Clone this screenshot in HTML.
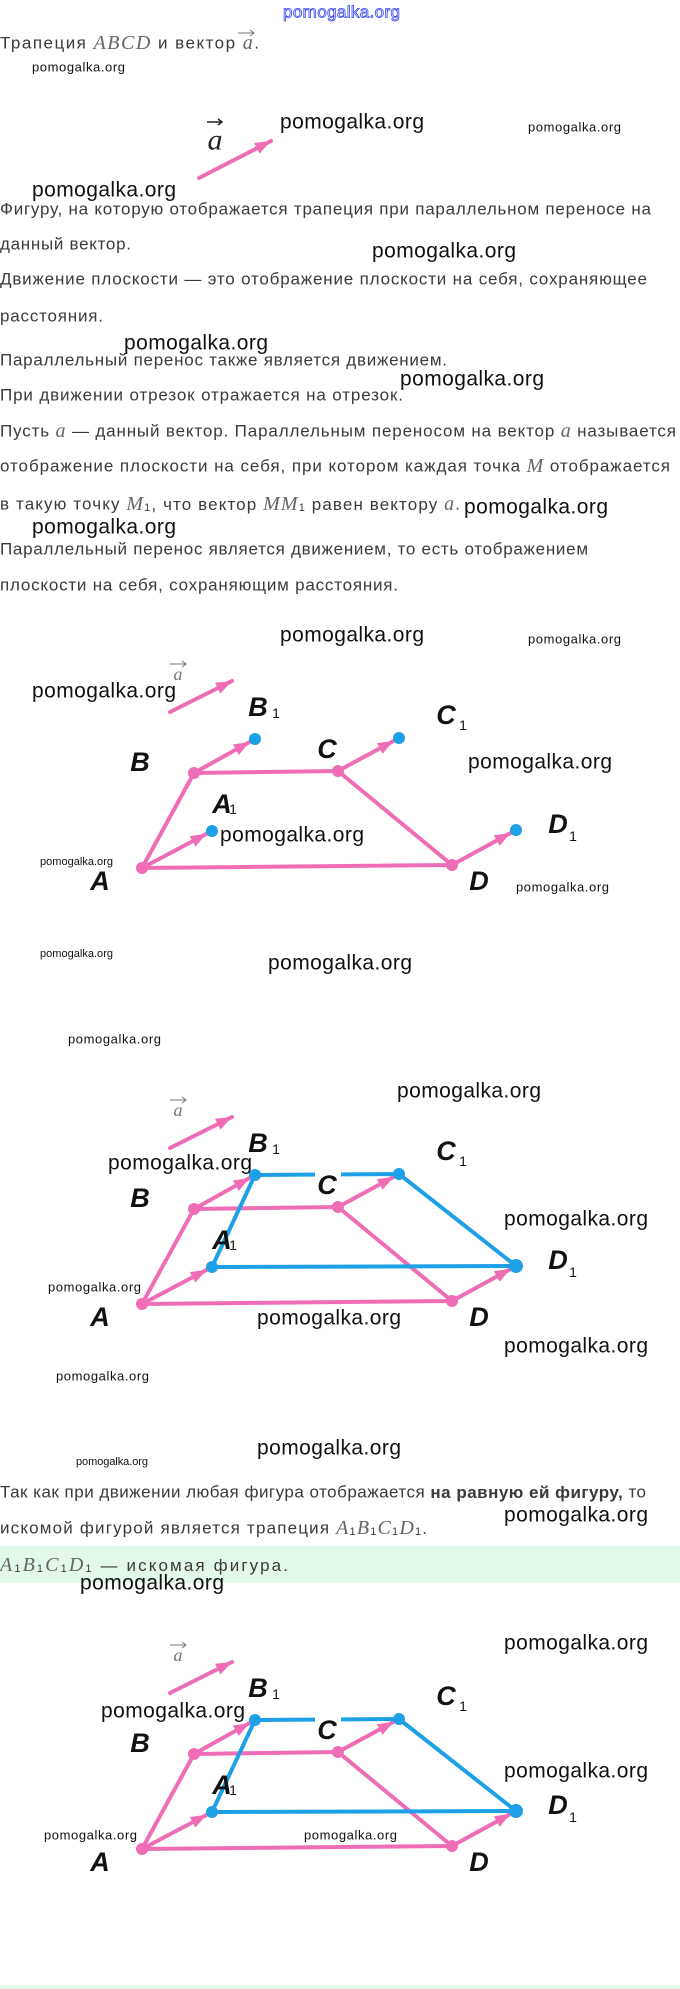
<!DOCTYPE html>
<html><head><meta charset="utf-8">
<style>
html,body{margin:0;padding:0;background:#fff;}
svg{display:block;}
.t{font-family:"Liberation Sans",sans-serif;font-size:17px;fill:#3a3a3a;dominant-baseline:central;}
.m{font-family:"Liberation Serif",serif;font-style:italic;font-size:20px;fill:#666;}
.w{font-family:"Liberation Sans",sans-serif;font-size:21px;fill:#111;dominant-baseline:central;}
.ws{font-family:"Liberation Sans",sans-serif;font-size:13px;fill:#111;dominant-baseline:central;}
.wx{font-family:"Liberation Sans",sans-serif;font-size:11px;fill:#111;dominant-baseline:central;}
.L{font-family:"Liberation Sans",sans-serif;font-size:27px;font-weight:bold;font-style:italic;fill:#111;dominant-baseline:central;text-anchor:middle;}
.s{font-family:"Liberation Sans",sans-serif;font-size:14px;fill:#111;dominant-baseline:central;text-anchor:middle;}
.va{font-family:"Liberation Serif",serif;font-style:italic;font-size:18px;fill:#777;dominant-baseline:central;text-anchor:middle;}
</style></head><body>
<svg width="680" height="1989" viewBox="0 0 680 1989" xmlns="http://www.w3.org/2000/svg">
<defs>
<marker id="ah" markerUnits="userSpaceOnUse" markerWidth="16" markerHeight="12" viewBox="0 0 16 12" refX="22" refY="6" orient="auto"><path d="M0,0 L16,6 L0,12 z" fill="#ef6db5"/></marker>
<marker id="ah0" markerUnits="userSpaceOnUse" markerWidth="16" markerHeight="12" viewBox="0 0 16 12" refX="16" refY="6" orient="auto"><path d="M0,0 L16,6 L0,12 z" fill="#ef6db5"/></marker>
<g id="fig">
<g stroke="#ef6db5" stroke-width="4" fill="none" stroke-linecap="round">
<polyline points="452,865 142,868 194,773 338,771 452,865"/>
<line x1="142" y1="868" x2="212" y2="831" marker-end="url(#ah)"/>
<line x1="194" y1="773" x2="255" y2="739" marker-end="url(#ah)"/>
<line x1="338" y1="771" x2="399" y2="738" marker-end="url(#ah)"/>
<line x1="452" y1="865" x2="516" y2="830" marker-end="url(#ah)"/>
</g>
<g fill="#ef6db5"><circle cx="142" cy="868" r="6"/><circle cx="194" cy="773" r="6"/><circle cx="338" cy="771" r="6"/><circle cx="452" cy="865" r="6"/></g>
</g>
<g id="lab">
<text class="L" x="140" y="762">B</text>
<text class="L" x="258" y="707">B</text><text class="s" x="276" y="713">1</text>
<text class="L" x="327" y="749">C</text>
<text class="L" x="446" y="715">C</text><text class="s" x="463" y="725">1</text>
<text class="L" x="222" y="804">A</text><text class="s" x="233" y="809">1</text>
<text class="L" x="558" y="824">D</text><text class="s" x="573" y="836">1</text>
<text class="L" x="100" y="881">A</text>
<text class="L" x="479" y="881">D</text>
<line x1="170" y1="712" x2="232" y2="681" stroke="#ef6db5" stroke-width="4" stroke-linecap="round" marker-end="url(#ah0)"/>
<text class="va" x="178" y="674">a</text>
<path d="M170,664 L186,664 M182,661 L186,664 L182,667" stroke="#777" stroke-width="1" fill="none"/>
</g>
</defs>

<!-- top -->
<text x="283" y="12" style="font-family:'Liberation Sans',sans-serif;font-size:17px;fill:#fff;stroke:#3344ee;stroke-width:0.8;dominant-baseline:central" textLength="117">pomogalka.org</text>
<text class="t" x="0" y="43" textLength="259">Трапеция <tspan class="m">ABCD</tspan> и вектор <tspan class="m">a</tspan>.</text>
<path d="M238,33 L254,33 M250,30 L254,33 L250,36" stroke="#777" stroke-width="1" fill="none"/>
<text class="ws" x="32" y="67" textLength="93">pomogalka.org</text>
<text x="215" y="140" style="font-family:'Liberation Serif',serif;font-style:italic;font-size:30px;fill:#222;dominant-baseline:central;text-anchor:middle">a</text>
<path d="M207,122 L222,122 M218,119 L222,122 L218,125" stroke="#222" stroke-width="1.5" fill="none"/>
<line x1="199" y1="178" x2="271" y2="141" stroke="#ef6db5" stroke-width="4" stroke-linecap="round" marker-end="url(#ah0)"/>
<text class="w" x="280" y="122" textLength="144">pomogalka.org</text>
<text class="ws" x="528" y="127" textLength="93">pomogalka.org</text>
<text class="w" x="32" y="190" textLength="144">pomogalka.org</text>

<text class="t" x="0" y="209" textLength="651">Фигуру, на которую отображается трапеция при параллельном переносе на</text>
<text class="t" x="0" y="244" textLength="131">данный вектор.</text>
<text class="w" x="372" y="251" textLength="144">pomogalka.org</text>
<text class="t" x="0" y="279" textLength="647">Движение плоскости — это отображение плоскости на себя, сохраняющее</text>
<text class="t" x="0" y="316" textLength="103">расстояния.</text>
<text class="w" x="124" y="343" textLength="144">pomogalka.org</text>
<text class="t" x="0" y="360" textLength="447">Параллельный перенос также является движением.</text>
<text class="w" x="400" y="379" textLength="144">pomogalka.org</text>
<text class="t" x="0" y="395" textLength="403">При движении отрезок отражается на отрезок.</text>
<text class="t" x="0" y="431" textLength="676">Пусть <tspan class="m">a</tspan> — данный вектор. Параллельным переносом на вектор <tspan class="m">a</tspan> называется</text>
<text class="t" x="0" y="466" textLength="670">отображение плоскости на себя, при котором каждая точка <tspan class="m">M</tspan> отображается</text>
<text class="t" x="0" y="504" textLength="460">в такую точку <tspan class="m">M</tspan><tspan style="font-size:11px" dy="4">1</tspan><tspan dy="-4">, что вектор </tspan><tspan class="m">MM</tspan><tspan style="font-size:11px" dy="4">1</tspan><tspan dy="-4"> равен вектору </tspan><tspan class="m">a</tspan>.</text>
<text class="w" x="464" y="507" textLength="144">pomogalka.org</text>
<text class="w" x="32" y="527" textLength="144">pomogalka.org</text>
<text class="t" x="0" y="549" textLength="588">Параллельный перенос является движением, то есть отображением</text>
<text class="t" x="0" y="585" textLength="398">плоскости на себя, сохраняющим расстояния.</text>

<!-- figure 1 -->
<use href="#fig"/>
<use href="#lab"/>
<circle cx="212" cy="831" r="6" fill="#1ea0e6"/><circle cx="255" cy="739" r="6" fill="#1ea0e6"/><circle cx="399" cy="738" r="6" fill="#1ea0e6"/><circle cx="516" cy="830" r="6" fill="#1ea0e6"/>
<text class="w" x="280" y="635" textLength="144">pomogalka.org</text>
<text class="ws" x="528" y="639" textLength="93">pomogalka.org</text>
<text class="w" x="32" y="691" textLength="144">pomogalka.org</text>
<text class="w" x="468" y="762" textLength="144">pomogalka.org</text>
<text class="w" x="220" y="835" textLength="144">pomogalka.org</text>
<text class="wx" x="40" y="862" textLength="73">pomogalka.org</text>
<text class="ws" x="516" y="887" textLength="93">pomogalka.org</text>
<text class="wx" x="40" y="954" textLength="73">pomogalka.org</text>
<text class="w" x="268" y="963" textLength="144">pomogalka.org</text>
<text class="ws" x="68" y="1039" textLength="93">pomogalka.org</text>

<!-- figure 2 -->
<g transform="translate(0,436)">
<use href="#fig"/>
<polygon points="212,831 255,739 399,738 516,830" fill="none" stroke="#1ea0e6" stroke-width="4" stroke-linejoin="round"/>
<rect x="315" y="730" width="26" height="16" fill="#fff"/>
<use href="#lab"/>
<circle cx="212" cy="831" r="6" fill="#1ea0e6"/><circle cx="255" cy="739" r="6" fill="#1ea0e6"/><circle cx="399" cy="738" r="6" fill="#1ea0e6"/><circle cx="516" cy="830" r="7" fill="#1ea0e6"/>
</g>
<text class="w" x="397" y="1091" textLength="144">pomogalka.org</text>
<text class="w" x="108" y="1163" textLength="144">pomogalka.org</text>
<text class="w" x="504" y="1219" textLength="144">pomogalka.org</text>
<text class="ws" x="48" y="1287" textLength="93">pomogalka.org</text>
<text class="w" x="257" y="1318" textLength="144">pomogalka.org</text>
<text class="w" x="504" y="1346" textLength="144">pomogalka.org</text>
<text class="ws" x="56" y="1376" textLength="93">pomogalka.org</text>

<text class="w" x="257" y="1448" textLength="144">pomogalka.org</text>
<text class="wx" x="76" y="1462" textLength="72">pomogalka.org</text>
<text class="t" x="0" y="1492" textLength="646">Так как при движении любая фигура отображается <tspan font-weight="bold">на равную ей фигуру,</tspan> то</text>
<text class="t" x="0" y="1528" textLength="427">искомой фигурой является трапеция <tspan class="m">A</tspan><tspan style="font-size:11px" dy="4">1</tspan><tspan class="m" dy="-4">B</tspan><tspan style="font-size:11px" dy="4">1</tspan><tspan class="m" dy="-4">C</tspan><tspan style="font-size:11px" dy="4">1</tspan><tspan class="m" dy="-4">D</tspan><tspan style="font-size:11px" dy="4">1</tspan><tspan dy="-4">.</tspan></text>
<text class="w" x="504" y="1515" textLength="144">pomogalka.org</text>
<rect x="0" y="1546" width="680" height="37" fill="#e2f8e9"/>
<text class="t" x="0" y="1565" textLength="288"><tspan class="m">A</tspan><tspan style="font-size:11px" dy="4">1</tspan><tspan class="m" dy="-4">B</tspan><tspan style="font-size:11px" dy="4">1</tspan><tspan class="m" dy="-4">C</tspan><tspan style="font-size:11px" dy="4">1</tspan><tspan class="m" dy="-4">D</tspan><tspan style="font-size:11px" dy="4">1</tspan><tspan dy="-4"> — искомая фигура.</tspan></text>
<text class="w" x="80" y="1583" textLength="144">pomogalka.org</text>

<!-- figure 3 -->
<g transform="translate(0,981)">
<use href="#fig"/>
<polygon points="212,831 255,739 399,738 516,830" fill="none" stroke="#1ea0e6" stroke-width="4" stroke-linejoin="round"/>
<rect x="315" y="730" width="26" height="16" fill="#fff"/>
<use href="#lab"/>
<circle cx="212" cy="831" r="6" fill="#1ea0e6"/><circle cx="255" cy="739" r="6" fill="#1ea0e6"/><circle cx="399" cy="738" r="6" fill="#1ea0e6"/><circle cx="516" cy="830" r="7" fill="#1ea0e6"/>
</g>
<text class="w" x="504" y="1643" textLength="144">pomogalka.org</text>
<text class="w" x="101" y="1711" textLength="144">pomogalka.org</text>
<text class="w" x="504" y="1771" textLength="144">pomogalka.org</text>
<text class="ws" x="44" y="1835" textLength="93">pomogalka.org</text>
<text class="ws" x="304" y="1835" textLength="93">pomogalka.org</text>
<rect x="0" y="1985" width="680" height="4" fill="#e2f8e9"/>
</svg>
</body></html>
